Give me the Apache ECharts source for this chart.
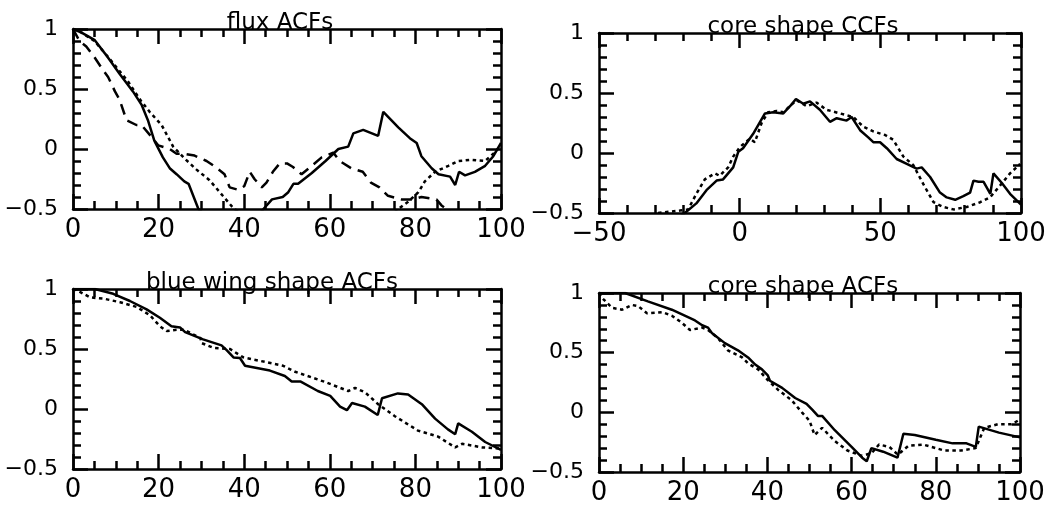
<!DOCTYPE html>
<html>
<head>
<meta charset="utf-8">
<script src="https://cdn.jsdelivr.net/npm/echarts@6.0.0/dist/echarts.min.js"></script>
<style>
html,body{margin:0;padding:0;background:#fff;}
#chart{width:1050px;height:514px;}
</style>
</head>
<body>
<div id="chart"></div>
<script>
// ---- titles ----
const panelTitles = ["flux ACFs", "core shape CCFs", "blue wing shape ACFs", "core shape ACFs"];

// ---- panel 1: flux ACFs ----
const fluxSolidX = [0, 2, 5, 8, 11, 14, 16, 17.5, 19, 21, 22.6, 24.2, 26, 27, 29.3, 33, 38, 42, 44.5, 46.5, 49, 50.3, 51.5, 52.6, 55.8, 59, 62, 64.3, 65.5, 67.8, 71.3, 72.5, 76, 78.7, 80.3, 81.4, 83.8, 85.4, 88.1, 89.3, 90.2, 91.6, 93.9, 96.3, 98.2, 100];
const fluxSolidY = [1, 0.97, 0.91, 0.77, 0.62, 0.48, 0.37, 0.24, 0.07, -0.07, -0.16, -0.21, -0.27, -0.29, -0.5, -0.62, -0.66, -0.6, -0.5, -0.42, -0.40, -0.36, -0.29, -0.29, -0.20, -0.10, 0.0, 0.02, 0.13, 0.16, 0.11, 0.31, 0.18, 0.09, 0.05, -0.06, -0.16, -0.21, -0.23, -0.30, -0.19, -0.22, -0.19, -0.14, -0.06, 0.05];
const fluxDotX = [0, 2, 5, 8.6, 12.9, 15.9, 17.9, 20.7, 23.4, 26.1, 28.8, 31.9, 35, 37.4, 45, 60, 70, 76, 78.3, 80.7, 82.2, 84.6, 87.7, 90, 93.1, 96.3, 98.2, 100];
const fluxDotY = [1, 0.97, 0.90, 0.75, 0.56, 0.40, 0.31, 0.20, 0.02, -0.08, -0.17, -0.26, -0.39, -0.49, -0.7, -0.85, -0.7, -0.5, -0.44, -0.36, -0.27, -0.19, -0.14, -0.10, -0.09, -0.10, -0.04, 0.03];
const fluxDashX = [0, 1.5, 3.1, 5.1, 6.6, 8.2, 9.8, 10.9, 12.5, 14.8, 16, 17.9, 19.9, 22.6, 24.2, 26.1, 28.4, 31.2, 33.5, 35.4, 36.6, 38.6, 40, 41.3, 42.4, 44.1, 45.2, 46.7, 48.3, 50, 51.4, 53.4, 55.8, 58.1, 60.8, 62.3, 65, 67.7, 69.6, 71.6, 73.6, 76.7, 79.4, 81.4, 84.9, 86.1, 87.7, 90, 95, 100];
const fluxDashY = [1, 0.90, 0.855, 0.76, 0.68, 0.60, 0.48, 0.41, 0.24, 0.20, 0.20, 0.12, 0.03, 0.0, -0.04, -0.04, -0.055, -0.10, -0.155, -0.21, -0.32, -0.34, -0.31, -0.19, -0.25, -0.32, -0.28, -0.19, -0.12, -0.12, -0.15, -0.21, -0.14, -0.07, -0.03, -0.10, -0.16, -0.19, -0.28, -0.32, -0.39, -0.42, -0.42, -0.40, -0.42, -0.47, -0.51, -0.6, -0.7, -0.75];

// ---- panel 2: core shape CCFs ----
const ccfSolidX = [-24, -19.5, -15.4, -11.8, -8.2, -5.9, -2.3, -0.5, 1.2, 4.8, 9, 11.9, 15.5, 17.9, 20, 22.6, 25, 28.5, 32.1, 34.5, 38, 39.8, 42.8, 45.7, 47.5, 49.9, 52.3, 55.8, 59.4, 62.9, 64.7, 67.7, 71.2, 73.6, 76.6, 79.5, 81.9, 83.1, 84.9, 86.7, 89.1, 90.2, 93.2, 96.1, 100];
const ccfSolidY = [-0.58, -0.5, -0.42, -0.31, -0.23, -0.22, -0.12, 0.01, 0.04, 0.16, 0.33, 0.34, 0.33, 0.39, 0.45, 0.41, 0.43, 0.36, 0.26, 0.29, 0.27, 0.30, 0.19, 0.13, 0.09, 0.09, 0.04, -0.05, -0.09, -0.13, -0.12, -0.20, -0.33, -0.37, -0.39, -0.36, -0.33, -0.23, -0.24, -0.24, -0.34, -0.17, -0.25, -0.34, -0.43];
const ccfDotX = [-29, -25.4, -21.3, -18.3, -15.4, -12.4, -8.8, -7.1, -4.1, -2.3, 0.1, 3.6, 5.4, 7.8, 10.1, 13.1, 15.5, 20.2, 23.8, 27.3, 30.9, 35.6, 40.4, 43.9, 47.5, 51.7, 54.6, 58.2, 61.7, 65.3, 68.9, 72.4, 76, 80.7, 85.5, 89, 92.6, 96.1, 99.7];
const ccfDotY = [-0.5, -0.49, -0.48, -0.47, -0.34, -0.22, -0.17, -0.19, -0.12, -0.03, 0.05, 0.12, 0.09, 0.25, 0.34, 0.35, 0.34, 0.44, 0.39, 0.42, 0.36, 0.33, 0.30, 0.22, 0.18, 0.15, 0.11, -0.03, -0.10, -0.26, -0.41, -0.45, -0.47, -0.45, -0.41, -0.37, -0.27, -0.17, -0.09];

// ---- panel 3: blue wing shape ACFs ----
const blueSolidX = [0, 5.1, 9.4, 13.3, 17.2, 20.3, 23, 25, 26.2, 30.4, 34.7, 35.9, 37.5, 39, 40.2, 46, 49.5, 51.1, 53.1, 57.2, 60.1, 62.4, 64, 65.2, 68.2, 71.2, 72.2, 75.9, 78.3, 81.5, 84.6, 87.6, 89.3, 90, 93.2, 96.3, 100];
const blueSolidY = [1.0, 1.0, 0.96, 0.90, 0.83, 0.76, 0.69, 0.68, 0.64, 0.58, 0.53, 0.49, 0.43, 0.425, 0.36, 0.32, 0.275, 0.23, 0.23, 0.15, 0.11, 0.02, -0.01, 0.05, 0.02, -0.05, 0.09, 0.13, 0.12, 0.04, -0.08, -0.17, -0.21, -0.12, -0.19, -0.275, -0.34];
const blueDotX = [0, 0.9, 4, 7.1, 11, 14.9, 18, 20.3, 21.9, 24.2, 26, 29.8, 30, 32.8, 36.7, 39.8, 45.2, 49.1, 51.9, 58.9, 64.3, 65.9, 68.2, 71.3, 75.2, 80.6, 85.3, 89.3, 90.9, 95.6, 100];
const blueDotY = [1, 0.99, 0.93, 0.92, 0.89, 0.85, 0.78, 0.69, 0.65, 0.66, 0.66, 0.59, 0.55, 0.51, 0.50, 0.43, 0.39, 0.36, 0.31, 0.225, 0.15, 0.175, 0.14, 0.04, -0.06, -0.18, -0.23, -0.32, -0.29, -0.32, -0.33];

// ---- panel 4: core shape ACFs ----
const coreSolidX = [0, 6.2, 11.6, 17.3, 22.8, 24.5, 25.9, 26.8, 29.9, 33, 35.4, 37.1, 38.7, 40.1, 40.6, 43.5, 46.6, 49.3, 50.7, 52, 53, 56, 60, 62.5, 63.6, 64.7, 67.5, 70.9, 72.3, 75, 80, 84, 87.3, 89.5, 90.2, 95, 100];
const coreSolidY = [1, 1.0, 0.93, 0.86, 0.77, 0.73, 0.71, 0.665, 0.58, 0.52, 0.46, 0.40, 0.36, 0.31, 0.265, 0.205, 0.12, 0.07, 0.02, -0.03, -0.03, -0.15, -0.29, -0.38, -0.41, -0.30, -0.33, -0.38, -0.18, -0.19, -0.23, -0.26, -0.26, -0.29, -0.12, -0.17, -0.21];
const coreDotX = [0, 0.7, 3.1, 5.5, 7.8, 9.3, 11.4, 15, 17.3, 19.7, 21.6, 24.5, 25.9, 28.3, 30.6, 34, 35.4, 37.8, 40.1, 42.5, 45.8, 48.2, 50, 51.2, 53, 56, 59, 62.5, 64.8, 66.5, 69, 71, 73.5, 77, 82, 86, 89.5, 91.5, 94.7, 98, 100];
const coreDotY = [1, 0.96, 0.875, 0.86, 0.90, 0.89, 0.83, 0.84, 0.81, 0.75, 0.69, 0.71, 0.69, 0.62, 0.52, 0.46, 0.41, 0.36, 0.27, 0.19, 0.10, 0.0, -0.07, -0.19, -0.13, -0.24, -0.32, -0.365, -0.34, -0.27, -0.29, -0.355, -0.28, -0.27, -0.32, -0.32, -0.30, -0.13, -0.10, -0.10, -0.06];

// ---- axis ranges / tick labels ----
const yMin = -0.5, yMax = 1, yStep = 0.5;
const lagMin = 0, lagMax = 100, lagStep = 20;
const ccfMin = -50, ccfMax = 100, ccfStep = 50;

function zip(xs, ys) { return xs.map((x, i) => [x, ys[i]]); }

const FONT = 'DejaVu Sans';
const grids = [
  {left: 73, top: 29, width: 428, height: 180},
  {left: 599, top: 33, width: 422, height: 180},
  {left: 73, top: 289, width: 428, height: 180},
  {left: 599, top: 293, width: 421, height: 179}
];

function fmtMinus(v) { return String(v).replace('-', '\u2212'); }

function baseAxis(gi, pos, min, max, interval, minorSplit, showLabel, margin, fontSize, padding) {
  return {
    type: 'value', gridIndex: gi, position: pos, min: min, max: max, interval: interval,
    axisLine: {show: true, onZero: false, lineStyle: {color: '#000', width: 2.5}},
    axisTick: {show: true, inside: true, length: 15, lineStyle: {color: '#000', width: 2.5}},
    minorTick: {show: true, splitNumber: minorSplit, length: 8, lineStyle: {color: '#000', width: 2.5}},
    splitLine: {show: false}, minorSplitLine: {show: false},
    axisLabel: {show: showLabel, color: '#000', fontSize: fontSize, fontFamily: FONT, margin: margin,
      padding: padding, formatter: fmtMinus}
  };
}

const xRanges = [[lagMin, lagMax, lagStep, 4], [ccfMin, ccfMax, ccfStep, 5], [lagMin, lagMax, lagStep, 4], [lagMin, lagMax, lagStep, 4]];
const xAxis = [], yAxis = [];
for (let g = 0; g < 4; g++) {
  const r = xRanges[g];
  xAxis.push(baseAxis(g, 'bottom', r[0], r[1], r[2], r[3], true, 8, 26, 0));
  xAxis.push(baseAxis(g, 'top', r[0], r[1], r[2], r[3], false, 8, 26, 0));
  yAxis.push(baseAxis(g, 'left', yMin, yMax, yStep, 5, true, 15, 22, [5, 0, 0, 0]));
  yAxis.push(baseAxis(g, 'right', yMin, yMax, yStep, 5, false, 15, 22, 0));
}

const SOLID = 'solid', DOT = [3.5, 3.5], DASH = [11, 7];
function ser(g, xs, ys, type) {
  return {
    type: 'line', xAxisIndex: g * 2, yAxisIndex: g * 2, data: zip(xs, ys),
    showSymbol: false, symbol: 'none', clip: true, animation: false,
    lineStyle: {color: '#000', width: 2.5, type: type}
  };
}

const series = [
  ser(0, fluxSolidX, fluxSolidY, SOLID),
  ser(0, fluxDotX, fluxDotY, DOT),
  ser(0, fluxDashX, fluxDashY, DASH),
  ser(1, ccfSolidX, ccfSolidY, SOLID),
  ser(1, ccfDotX, ccfDotY, DOT),
  ser(2, blueSolidX, blueSolidY, SOLID),
  ser(2, blueDotX, blueDotY, DOT),
  ser(3, coreSolidX, coreSolidY, SOLID),
  ser(3, coreDotX, coreDotY, DOT)
];

const titleCenters = [280, 803, 272, 803];
const title = panelTitles.map((t, i) => ({
  text: t, left: titleCenters[i], textAlign: 'center', top: grids[i].top - 17, padding: 0,
  textStyle: {color: '#000', fontSize: 23, fontWeight: 'normal', fontFamily: FONT}
}));

const chart = echarts.init(document.getElementById('chart'), null, {renderer: 'canvas'});
chart.setOption({
  animation: false,
  backgroundColor: '#fff',
  title: title,
  grid: grids,
  xAxis: xAxis,
  yAxis: yAxis,
  series: series
});
</script>
</body>
</html>
